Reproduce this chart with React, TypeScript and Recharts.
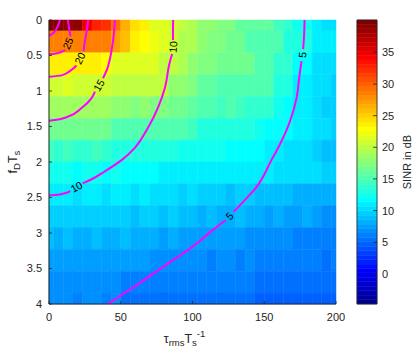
import React from 'react';
import { ComposedChart, XAxis, YAxis, Line, Scatter, ReferenceArea, Label } from 'recharts';

const FONT = '"Liberation Sans", Arial, Helvetica, sans-serif';
const AXIS = '#262626';
const CONTOUR = '#ff00ff';

// grid samples: tau_rms * Ts^-1 (columns) and fD * Ts in units of 1e-4 (rows)
const tauGrid = [
  0, 6.667, 13.333, 20, 26.667, 33.333, 40, 46.667, 53.333, 60, 66.667, 73.333, 80, 86.667, 93.333, 100,
  106.667, 113.333, 120, 126.667, 133.333, 140, 146.667, 153.333, 160, 166.667, 173.333, 180, 186.667, 193.333, 200,
];
const fdGrid = [0, 0.3077, 0.6154, 0.9231, 1.2308, 1.5385, 1.8462, 2.1538, 2.4615, 2.7692, 3.0769, 3.3846, 3.6923, 4];

// SINR in dB, one list per fD row
const sinrRow0 = [40, 39.6, 39.2, 38.8, 35, 32.4, 31.8, 29.2, 26.6, 24.0, 23.4, 21.8, 21.2, 20.6, 20.0, 19.5, 18.3, 18.0, 17.3, 17.0, 16.1, 16.0, 15.8, 15.9, 14.3, 13.9, 12.6, 12.2, 11.0, 10.6, 10.3];
const sinrRow1 = [28.6, 28.4, 28.6, 28.3, 28.4, 28.2, 28.3, 26.8, 25.5, 23.4, 23.1, 22.2, 21.8, 21.0, 19.5, 19.2, 17.8, 17.6, 17.4, 16.7, 16.5, 15.5, 15.4, 15.3, 15.2, 13.4, 13.2, 13.0, 11.1, 10.9, 10.8];
const sinrRow2 = [23.6, 23.5, 23.6, 23.4, 23.3, 23.4, 23.1, 21.7, 21.5, 21.4, 21.5, 21.2, 20.1, 19.8, 19.6, 17.8, 17.6, 17.5, 16.7, 16.5, 16.4, 16.4, 15.4, 15.2, 13.8, 13.6, 11.6, 11.4, 10.4, 10.3, 10.2];
const sinrRow3 = [21.1, 21.0, 21.2, 20.9, 21.0, 21.1, 20.8, 20.1, 20.0, 19.9, 20.1, 19.9, 19.8, 18.3, 18.1, 17.1, 16.1, 15.9, 15.3, 15.2, 15.2, 15.1, 15.3, 15.0, 13.3, 13.1, 11.1, 10.9, 10.1, 10.0, 9.9];
const sinrRow4 = [18.9, 18.8, 18.9, 18.7, 18.8, 18.9, 18.6, 17.8, 17.7, 17.6, 17.8, 17.6, 17.5, 16.7, 16.5, 16.0, 15.0, 14.9, 14.8, 14.9, 14.7, 13.9, 13.8, 13.7, 12.1, 11.9, 10.8, 10.7, 10.6, 9.8, 9.7];
const sinrRow5 = [16.7, 16.6, 16.7, 16.5, 16.6, 16.7, 16.5, 15.5, 15.4, 15.3, 15.5, 15.3, 15.4, 15.2, 14.9, 14.8, 13.3, 13.2, 13.1, 13.2, 13.0, 13.1, 12.1, 12.0, 11.9, 12.0, 11.0, 10.9, 10.1, 10.0, 9.9];
const sinrRow6 = [14.2, 14.1, 14.2, 14.0, 14.1, 14.2, 14.0, 13.4, 13.3, 13.2, 13.4, 13.3, 13.2, 13.3, 12.6, 12.5, 12.6, 12.4, 12.5, 11.6, 11.5, 11.4, 11.5, 10.8, 10.7, 10.6, 10.1, 10.0, 9.9, 9.0, 8.9];
const sinrRow7 = [12.2, 12.1, 12.2, 12.0, 12.1, 12.2, 12.0, 12.1, 11.6, 11.5, 11.6, 11.4, 11.1, 11.0, 11.1, 11.3, 11.2, 11.3, 11.1, 11.2, 11.3, 11.1, 11.2, 11.0, 10.5, 10.4, 10.3, 10.4, 10.3, 9.4, 9.3];
const sinrRow8 = [10.8, 10.7, 10.8, 10.6, 10.7, 10.8, 10.6, 10.7, 10.8, 10.6, 10.7, 10.1, 10.0, 10.1, 9.9, 10.0, 9.4, 9.3, 9.4, 9.2, 9.3, 9.4, 8.8, 8.7, 8.8, 8.6, 8.3, 8.2, 8.1, 8.2, 8.1];
const sinrRow9 = [9.9, 9.8, 9.9, 9.7, 9.8, 9.9, 9.7, 9.4, 9.3, 9.2, 9.4, 9.3, 9.2, 9.3, 8.8, 8.6, 8.5, 8.6, 8.4, 8.5, 8.6, 8.4, 7.9, 7.8, 7.9, 7.7, 7.8, 7.9, 7.7, 7.1, 7.0];
const sinrRow10 = [8.6, 8.5, 8.6, 8.4, 8.5, 8.6, 8.4, 8.5, 8.6, 8.4, 8.5, 7.9, 7.8, 7.9, 7.7, 7.6, 7.5, 7.6, 7.7, 7.5, 7.6, 7.0, 7.1, 6.9, 7.0, 7.1, 6.3, 6.2, 6.1, 6.2, 6.1];
const sinrRow11 = [7.7, 7.6, 7.7, 7.5, 7.6, 7.7, 7.5, 7.6, 7.7, 7.5, 7.6, 7.1, 7.0, 6.9, 7.0, 6.6, 6.5, 6.4, 6.5, 6.6, 6.4, 6.5, 5.9, 6.0, 5.8, 5.9, 6.0, 5.8, 5.9, 5.7, 5.8];
const sinrRow12 = [7.1, 7.0, 7.1, 6.9, 7.0, 7.1, 6.9, 7.0, 6.3, 6.2, 6.1, 6.2, 6.3, 6.1, 6.2, 5.9, 6.0, 5.8, 5.9, 6.0, 5.8, 5.9, 5.3, 5.4, 5.2, 5.3, 5.4, 5.2, 5.3, 5.2, 5.1];
const sinrRow13 = [6.6, 6.5, 6.6, 6.4, 6.5, 6.6, 6.4, 6.5, 5.7, 5.6, 5.5, 5.6, 5.7, 5.5, 5.6, 5.3, 5.4, 5.2, 5.3, 5.4, 5.2, 5.3, 4.6, 4.7, 4.5, 4.6, 4.7, 4.5, 4.6, 4.4, 4.5];
const sinrRows = [
  sinrRow0, sinrRow1, sinrRow2, sinrRow3, sinrRow4, sinrRow5, sinrRow6,
  sinrRow7, sinrRow8, sinrRow9, sinrRow10, sinrRow11, sinrRow12, sinrRow13,
];

// contour lines (split where the level labels sit)
const contour5a = [{ tau: 178.1, fd: 0 }, { tau: 177.8, fd: 0.2 }, { tau: 177.1, fd: 0.41 }];
const contour5b = [
  { tau: 176.0, fd: 0.58 }, { tau: 174.6, fd: 0.77 }, { tau: 172.5, fd: 1.1 }, { tau: 167.7, fd: 1.44 },
  { tau: 160.7, fd: 1.76 }, { tau: 155.1, fd: 1.97 }, { tau: 144.7, fd: 2.35 }, { tau: 136.3, fd: 2.54 },
  { tau: 128.8, fd: 2.7 },
];
const contour5c = [
  { tau: 123.1, fd: 2.82 }, { tau: 113.4, fd: 2.97 }, { tau: 101.6, fd: 3.17 }, { tau: 78.6, fd: 3.49 },
  { tau: 59.8, fd: 3.75 }, { tau: 41, fd: 4.0 },
];
const contour10a = [{ tau: 86.5, fd: 0 }, { tau: 86.4, fd: 0.15 }, { tau: 86.4, fd: 0.28 }];
const contour10b = [
  { tau: 85.8, fd: 0.48 }, { tau: 84.2, fd: 0.59 }, { tau: 80.7, fd: 0.96 }, { tau: 75.8, fd: 1.24 },
  { tau: 68.9, fd: 1.52 }, { tau: 59.8, fd: 1.8 }, { tau: 50.8, fd: 1.97 }, { tau: 39.0, fd: 2.13 },
  { tau: 29.0, fd: 2.25 }, { tau: 23.4, fd: 2.3 },
];
const contour10c = [{ tau: 14.9, fd: 2.41 }, { tau: 9, fd: 2.45 }, { tau: 4, fd: 2.465 }, { tau: 0, fd: 2.47 }];
const contour15a = [
  { tau: 45.9, fd: 0 }, { tau: 45.2, fd: 0.2 }, { tau: 43.4, fd: 0.45 }, { tau: 40.7, fd: 0.68 }, { tau: 37.6, fd: 0.82 },
];
const contour15b = [
  { tau: 32.0, fd: 1.01 }, { tau: 29.7, fd: 1.1 }, { tau: 22.7, fd: 1.24 }, { tau: 13.4, fd: 1.36 },
  { tau: 4.2, fd: 1.41 }, { tau: 0, fd: 1.42 },
];
const contour20a = [{ tau: 27.3, fd: 0 }, { tau: 26.2, fd: 0.165 }, { tau: 24.6, fd: 0.35 }, { tau: 24.1, fd: 0.44 }];
const contour20b = [{ tau: 19.1, fd: 0.64 }, { tau: 15.8, fd: 0.7 }, { tau: 8.8, fd: 0.78 }, { tau: 0, fd: 0.8 }];
const contour25a = [{ tau: 13.2, fd: 0 }, { tau: 14.0, fd: 0.12 }, { tau: 15.0, fd: 0.23 }];
const contour25b = [{ tau: 11.2, fd: 0.42 }, { tau: 8.0, fd: 0.455 }, { tau: 4.0, fd: 0.475 }, { tau: 0, fd: 0.48 }];
const contour30 = [{ tau: 7.6, fd: 0 }, { tau: 5.6, fd: 0.11 }, { tau: 2.1, fd: 0.2 }, { tau: 0, fd: 0.225 }];
const contourSegments = [
  contour5a, contour5b, contour5c, contour10a, contour10b, contour10c, contour15a, contour15b,
  contour20a, contour20b, contour25a, contour25b, contour30,
];

const contourLabels = [
  { tau: 176.7, fd: 0.49, text: '5', angle: -86 },
  { tau: 86.5, fd: 0.38, text: '10', angle: -86 },
  { tau: 34.8, fd: 0.92, text: '15', angle: -60 },
  { tau: 21.6, fd: 0.54, text: '20', angle: -63 },
  { tau: 13.2, fd: 0.33, text: '25', angle: -65 },
  { tau: 19.1, fd: 2.35, text: '10', angle: -29 },
  { tau: 125.9, fd: 2.76, text: '5', angle: -46 },
];

const tauTicks = [0, 50, 100, 150, 200];
const fdTicks = [0, 0.5, 1, 1.5, 2, 2.5, 3, 3.5, 4];
const colorTicks = [0, 5, 10, 15, 20, 25, 30, 35];
const colorLimits: [number, number] = [-4.75, 40.1];

// MATLAB jet(64)
const jetEntry = (k: number) => (k < 1 || k > 47 ? 0 : k <= 16 ? k / 16 : k <= 31 ? 1 : (48 - k) / 16);
const jetIndex = (i: number) => {
  const r = jetEntry(i - 24);
  const g = jetEntry(i - 8);
  const b = jetEntry(i + 8);
  return `rgb(${Math.round(r * 255)},${Math.round(g * 255)},${Math.round(b * 255)})`;
};
const jetColor = (v: number) => {
  const [lo, hi] = colorLimits;
  const i = Math.floor(((v - lo) / (hi - lo)) * 64) + 1;
  return jetIndex(Math.max(1, Math.min(64, i)));
};

const cellEdges = (c: number[]) =>
  c.map((v, i) => [i === 0 ? v : (c[i - 1] + v) / 2, i === c.length - 1 ? v : (v + c[i + 1]) / 2]);

const tauEdges = cellEdges(tauGrid);
const fdEdges = cellEdges(fdGrid);

// colorbar: 64 equal bands over the colour limits
const colorBands = Array.from({ length: 64 }, (_, k) => {
  const step = (colorLimits[1] - colorLimits[0]) / 64;
  const lo = colorLimits[0] + k * step;
  return { x: 0.5, lo, hi: lo + step, mid: lo + step / 2, color: jetIndex(k + 1) };
});

const BottomTick = (p: any) => (
  <g>
    <line x1={p.x} x2={p.x} y1={p.y} y2={p.y - 3} stroke={AXIS} strokeWidth={0.8} />
    <text x={p.x} y={p.y + 9} dy="0.71em" textAnchor="middle" fontSize={11} fill={AXIS} fontFamily={FONT}>
      {p.payload.value}
    </text>
  </g>
);
const TopTick = (p: any) => <line x1={p.x} x2={p.x} y1={p.y} y2={p.y + 3} stroke={AXIS} strokeWidth={0.8} />;
const LeftTick = (p: any) => (
  <g>
    <line x1={p.x} x2={p.x + 3} y1={p.y} y2={p.y} stroke={AXIS} strokeWidth={0.8} />
    <text x={p.x - 7} y={p.y} dy="0.355em" textAnchor="end" fontSize={11} fill={AXIS} fontFamily={FONT}>
      {p.payload.value}
    </text>
  </g>
);
const RightTick = (p: any) => <line x1={p.x} x2={p.x - 3} y1={p.y} y2={p.y} stroke={AXIS} strokeWidth={0.8} />;
const BarTick = (p: any) => (
  <g>
    <line x1={p.x} x2={p.x - 4} y1={p.y} y2={p.y} stroke={AXIS} strokeWidth={0.8} />
    <text x={p.x + 5} y={p.y} dy="0.355em" textAnchor="start" fontSize={11} fill={AXIS} fontFamily={FONT}>
      {p.payload.value}
    </text>
  </g>
);

const ContourLabel = (p: any) => (
  <text
    x={p.cx}
    y={p.cy}
    transform={`rotate(${p.payload.angle} ${p.cx} ${p.cy})`}
    textAnchor="middle"
    dy="0.36em"
    fontSize={10.5}
    fill="#000"
    fontFamily={FONT}
  >
    {p.payload.text}
  </text>
);

export default function App() {
  return (
    <div style={{ position: 'absolute', left: 0, top: 0, width: 415, height: 353, background: '#fff' }}>
      <div style={{ position: 'absolute', left: 0, top: 0 }}>
        <ComposedChart width={415} height={353} margin={{ top: 20, right: 79, bottom: 0, left: 0 }}>
          <XAxis
            dataKey="tau"
            type="number"
            domain={[0, 200]}
            allowDataOverflow
            ticks={tauTicks}
            height={49}
            tickSize={0}
            tickMargin={0}
            tickLine={false}
            axisLine={{ stroke: AXIS }}
            tick={<BottomTick />}
          >
            <Label
              content={(props: any) => {
                const vb = props.viewBox;
                return (
                  <text x={vb.x + vb.width / 2 - 8} y={vb.y + 39} textAnchor="middle" fontSize={12.5} fill={AXIS} fontFamily={FONT}>
                    <tspan>τ</tspan>
                    <tspan fontSize={9.5} dy={3}>rms</tspan>
                    <tspan fontSize={12.5} dy={-3}>T</tspan>
                    <tspan fontSize={9.5} dy={3}>s</tspan>
                    <tspan fontSize={9.5} dy={-9}>-1</tspan>
                  </text>
                );
              }}
            />
          </XAxis>
          <XAxis
            xAxisId="top"
            orientation="top"
            type="number"
            domain={[0, 200]}
            allowDataOverflow
            ticks={tauTicks}
            height={0}
            tickSize={0}
            tickMargin={0}
            tickLine={false}
            axisLine={{ stroke: AXIS }}
            tick={<TopTick />}
          >
            <Label
              content={(props: any) => {
                const vb = props.viewBox;
                return (
                  <text x={vb.x + 1} y={vb.y - 3} fontSize={10.5} fill={AXIS} fontFamily={FONT}>
                    <tspan>×10</tspan>
                    <tspan fontSize={8} dy={-4}>-4</tspan>
                  </text>
                );
              }}
            />
          </XAxis>
          <YAxis
            dataKey="fd"
            type="number"
            domain={[0, 4]}
            reversed
            allowDataOverflow
            ticks={fdTicks}
            width={49}
            tickSize={0}
            tickMargin={0}
            tickLine={false}
            axisLine={{ stroke: AXIS }}
            tick={<LeftTick />}
          >
            <Label
              content={(props: any) => {
                const vb = props.viewBox;
                const cx = vb.x + 17;
                const cy = vb.y + vb.height / 2;
                return (
                  <text x={cx} y={cy} transform={`rotate(-90 ${cx} ${cy})`} textAnchor="middle" fontSize={12.5} fill={AXIS} fontFamily={FONT}>
                    <tspan>f</tspan>
                    <tspan fontSize={9.5} dy={3}>D</tspan>
                    <tspan fontSize={12.5} dy={-3}>T</tspan>
                    <tspan fontSize={9.5} dy={3}>s</tspan>
                  </text>
                );
              }}
            />
          </YAxis>
          <YAxis
            yAxisId="right"
            orientation="right"
            type="number"
            domain={[0, 4]}
            reversed
            allowDataOverflow
            ticks={fdTicks}
            width={0}
            tickSize={0}
            tickMargin={0}
            tickLine={false}
            axisLine={{ stroke: AXIS }}
            tick={<RightTick />}
          />

          {sinrRows.map((row, i) =>
            row.map((v, j) => (
              <ReferenceArea
                key={`c-${i}-${j}`}
                x1={tauEdges[j][0]}
                x2={tauEdges[j][1]}
                y1={fdEdges[i][0]}
                y2={fdEdges[i][1]}
                fill={jetColor(v)}
                fillOpacity={1}
                stroke={jetColor(v)}
                strokeWidth={0.5}
              />
            )),
          )}

          {contourSegments.map((seg, k) => (
            <Line
              key={`l-${k}`}
              data={seg}
              dataKey="fd"
              type="monotoneY"
              stroke={CONTOUR}
              strokeWidth={2}
              dot={false}
              activeDot={false}
              isAnimationActive={false}
            />
          ))}
          <Scatter data={contourLabels} dataKey="fd" shape={<ContourLabel />} isAnimationActive={false} />
        </ComposedChart>
      </div>

      <div style={{ position: 'absolute', left: 340, top: 0 }}>
        <ComposedChart width={75} height={353} data={colorBands} margin={{ top: 20, right: 0, bottom: 49, left: 17 }}>
          <XAxis dataKey="x" type="number" domain={[0, 1]} allowDataOverflow hide />
          <YAxis
            dataKey="mid"
            orientation="right"
            type="number"
            domain={colorLimits}
            allowDataOverflow
            ticks={colorTicks}
            width={38}
            tickSize={0}
            tickMargin={0}
            tickLine={false}
            axisLine={false}
            tick={<BarTick />}
          >
            <Label
              content={(props: any) => {
                const vb = props.viewBox;
                const cx = vb.x + 34;
                const cy = vb.y + vb.height / 2;
                return (
                  <text x={cx} y={cy} transform={`rotate(-90 ${cx} ${cy})`} textAnchor="middle" fontSize={11} fill={AXIS} fontFamily={FONT}>
                    SINR in dB
                  </text>
                );
              }}
            />
          </YAxis>
          {colorBands.map((b, k) => (
            <ReferenceArea
              key={`b-${k}`}
              x1={0}
              x2={1}
              y1={b.lo}
              y2={b.hi}
              fill={b.color}
              fillOpacity={1}
              stroke={b.color}
              strokeWidth={0.5}
            />
          ))}
          <ReferenceArea
            x1={0}
            x2={1}
            y1={colorLimits[0]}
            y2={colorLimits[1]}
            fill="none"
            fillOpacity={0}
            stroke={AXIS}
            strokeWidth={0.8}
          />
          <Line dataKey="mid" stroke="none" dot={false} activeDot={false} isAnimationActive={false} />
        </ComposedChart>
      </div>
    </div>
  );
}
